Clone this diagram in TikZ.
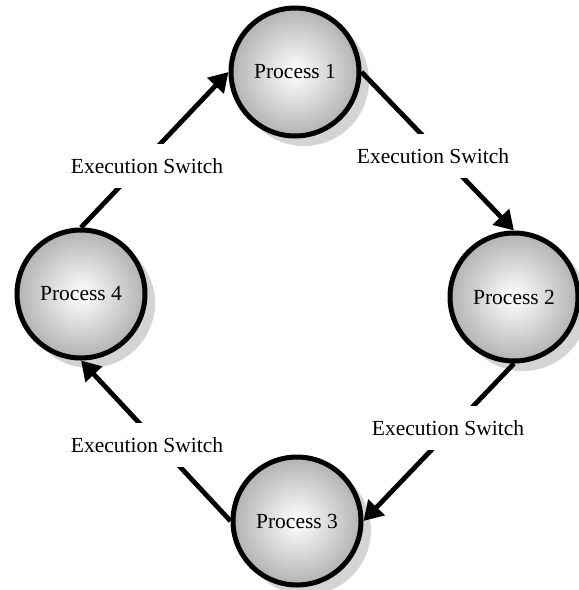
\documentclass[tikz,border=0pt]{standalone}
\usepackage{fontspec}
\setmainfont{Liberation Serif}
\usetikzlibrary{arrows.meta}
\tikzset{
  procnode/.style={circle, draw=black, line width=5pt, minimum size=128pt,
    inner sep=0pt, inner color=white, outer color=black!30,
    font=\fontsize{21.5}{24}\selectfont},
  procshadow/.style={fill=black!17},
  switchlabel/.style={fill=white, inner xsep=3pt, inner ysep=14pt,
    font=\fontsize{21.5}{24}\selectfont},
  switchedge/.style={line width=4.8pt,
    -{Triangle[length=19pt,width=22pt]}},
}
\begin{document}
\begin{tikzpicture}[x=1pt, y=-1pt]
\useasboundingbox (0,0) rectangle (579,590);

% process centres
\coordinate (c1) at (295,72);
\coordinate (c2) at (514,297);
\coordinate (c3) at (297,521);
\coordinate (c4) at (81,294);

% soft shadows behind the processes
\foreach \c in {c1,c2,c3,c4}
  \fill[procshadow] ([shift={(9pt,-9pt)}]\c) circle (65pt);

% processes
\node[procnode] (p1) at (c1) {Process 1};
\node[procnode] (p2) at (c2) {Process 2};
\node[procnode] (p3) at (c3) {Process 3};
\node[procnode] (p4) at (c4) {Process 4};

% execution switches between processes
\draw[switchedge] (p1.east)  -- (p2.north);
\draw[switchedge] (p2.south) -- (p3.east);
\draw[switchedge] (p3.west)  -- (p4.south);
\draw[switchedge] (p4.north) -- (p1.west);

% labels, masking the connectors beneath them
\node[switchlabel] (s12) at (433,156) {Execution Switch};
\node[switchlabel] (s23) at (448,428) {Execution Switch};
\node[switchlabel] (s34) at (147,445) {Execution Switch};
\node[switchlabel] (s41) at (147,166) {Execution Switch};
\end{tikzpicture}
\end{document}
